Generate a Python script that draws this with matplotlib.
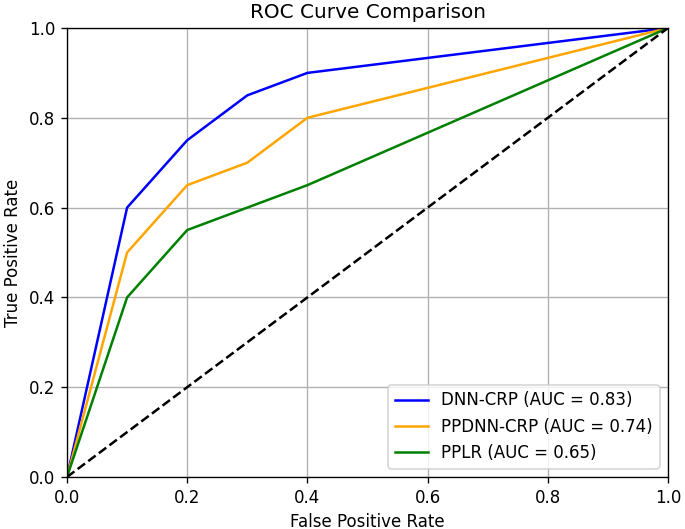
import matplotlib
matplotlib.use("Agg")
from matplotlib import pyplot as plt

# roc points
fpr = [0.0, 0.1, 0.2, 0.3, 0.4, 1.0]
tpr_dnn = [0.0, 0.6, 0.75, 0.85, 0.9, 1.0]
tpr_ppdnn = [0.0, 0.5, 0.65, 0.7, 0.8, 1.0]
tpr_pplr = [0.0, 0.4, 0.55, 0.6, 0.65, 1.0]
labels = ["DNN-CRP (AUC = 0.83)", "PPDNN-CRP (AUC = 0.74)", "PPLR (AUC = 0.65)"]

# reference looks like a 120 dpi render
fig = plt.figure(figsize=(685 / 120, 529 / 120), dpi=120)
ax = fig.add_axes([67 / 685, 52 / 529, 601 / 685, 449 / 529])

ax.plot(fpr, tpr_dnn, color="blue", label=labels[0])
ax.plot(fpr, tpr_ppdnn, color="orange", label=labels[1])
ax.plot(fpr, tpr_pplr, color="green", label=labels[2])
ax.plot([0, 1], [0, 1], "k--")

ax.set_xlim(0, 1)
ax.set_ylim(0, 1)
ax.set_xlabel("False Positive Rate")
ax.set_ylabel("True Positive Rate")
ax.set_title("ROC Curve Comparison")
ax.grid(True)
ax.legend(loc="lower right")

fig.savefig("out.png", dpi=120)
